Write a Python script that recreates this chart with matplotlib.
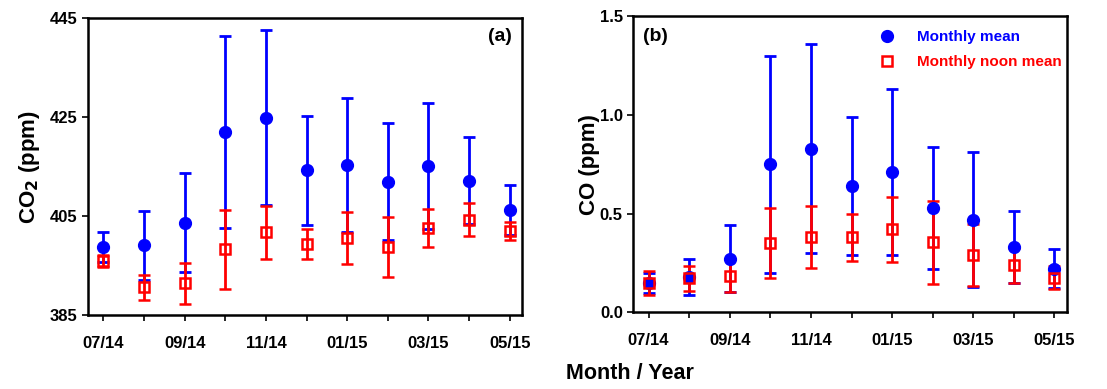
import numpy as np
import matplotlib.pyplot as plt

plt.rcParams['font.family'] = ['Liberation Sans', 'DejaVu Sans']
plt.rcParams['font.weight'] = 'bold'

# months 07/14 ... 05/15
months = np.arange(11)
tick_labels = ["07/14", "09/14", "11/14", "01/15", "03/15", "05/15"]

# CO2 (ppm)
co2_mean = [398.8, 399.1, 403.7, 422.0, 424.9, 414.3, 415.3, 412.0, 415.2, 412.2, 406.2]
co2_mean_err = [3.0, 7.0, 10.0, 19.4, 17.7, 11.0, 13.6, 11.9, 12.7, 8.8, 5.1]
co2_noon = [395.9, 390.6, 391.4, 398.3, 401.7, 399.4, 400.6, 398.8, 402.6, 404.3, 402.0]
co2_noon_err = [1.2, 2.5, 4.1, 8.0, 5.4, 3.0, 5.3, 6.0, 3.9, 3.4, 1.8]

# CO (ppm)
co_mean = [0.148, 0.18, 0.272, 0.749, 0.828, 0.638, 0.709, 0.528, 0.469, 0.331, 0.221]
co_mean_err = [0.05, 0.09, 0.17, 0.55, 0.53, 0.35, 0.42, 0.31, 0.34, 0.18, 0.10]
co_noon = [0.147, 0.172, 0.186, 0.349, 0.38, 0.38, 0.42, 0.356, 0.29, 0.238, 0.175]
co_noon_err = [0.06, 0.063, 0.085, 0.177, 0.157, 0.12, 0.166, 0.21, 0.156, 0.087, 0.059]

blue = "#0000ff"
red = "#ff0000"

fig = plt.figure(figsize=(11.07, 3.89), dpi=100)
ax1 = fig.add_axes([0.0795, 0.190, 0.392, 0.763])
ax2 = fig.add_axes([0.572, 0.197, 0.3915, 0.762])


def panel(ax, mean, mean_err, noon, noon_err):
    ax.errorbar(months, mean, yerr=mean_err, fmt="o", color=blue, ms=8.5,
                elinewidth=2, capsize=4, capthick=2, label="Monthly mean")
    ax.errorbar(months, noon, yerr=noon_err, fmt="s", color=red, ms=7.5,
                mfc="none", mew=1.8, elinewidth=2, capsize=4, capthick=2,
                label="Monthly noon mean")
    ax.set_xlim(-0.38, 10.3)
    ax.set_xticks(months[::2])
    ax.set_xticks(months[1::2], minor=True)
    ax.set_xticklabels(tick_labels)
    ax.tick_params(axis="both", which="both", direction="out", length=4,
                   width=1.2, labelsize=12)
    ax.tick_params(axis="x", pad=11)
    for s in ax.spines.values():
        s.set_linewidth(1.8)


panel(ax1, co2_mean, co2_mean_err, co2_noon, co2_noon_err)
ax1.set_ylim(385, 445)
ax1.set_yticks([385, 405, 425, 445])
ax1.set_ylabel(r"CO$_2$ (ppm)", fontsize=16, fontweight="bold", labelpad=6)
ax1.text(0.977, 0.94, "(a)", transform=ax1.transAxes, ha="right", va="center",
         fontsize=14, fontweight="bold")

panel(ax2, co_mean, co_mean_err, co_noon, co_noon_err)
ax2.set_ylim(0, 1.5)
ax2.set_yticks([0.0, 0.5, 1.0, 1.5])
ax2.set_yticklabels(["0.0", "0.5", "1.0", "1.5"])
ax2.set_ylabel("CO (ppm)", fontsize=16, fontweight="bold", labelpad=0)
ax2.text(0.022, 0.929, "(b)", transform=ax2.transAxes, ha="left", va="center",
         fontsize=14, fontweight="bold")

handles, labels = ax2.get_legend_handles_labels()
handles = [h[0] for h in handles]
ax2.legend(handles, labels, loc="upper left", bbox_to_anchor=(0.568, 0.951),
           frameon=False, labelcolor=[blue, red], handlelength=1.0,
           handletextpad=1.46, borderaxespad=0, borderpad=0, labelspacing=0.69,
           prop=dict(weight="bold", size=11))

fig.text(0.569, 0.04, "Month / Year", ha="center", va="center",
         fontsize=15.5, fontweight="bold")

fig.savefig("out.png", dpi=100)
